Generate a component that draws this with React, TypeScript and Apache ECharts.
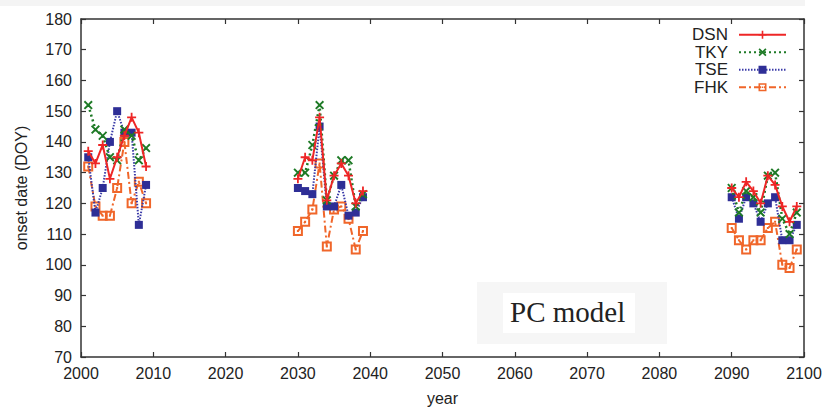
import React, { useEffect, useRef } from "react";
import * as echarts from "echarts";

const years1 = [2001, 2002, 2003, 2004, 2005, 2006, 2007, 2008, 2009];
const years2 = [2030, 2031, 2032, 2033, 2034, 2035, 2036, 2037, 2038, 2039];
const years3 = [2090, 2091, 2092, 2093, 2094, 2095, 2096, 2097, 2098, 2099];

const dsn1 = [137, 133, 139, 128, 135, 142, 148, 143, 132];
const dsn2 = [128, 135, 134, 148, 121, 129, 133, 129, 120, 124];
const dsn3 = [125, 122, 127, 124, 120, 129, 126, 119, 114, 119];

const tky1 = [152, 144, 142, 135, 134, 144, 142, 134, 138];
const tky2 = [130, 130, 139, 152, 121, 129, 134, 134, 119, 123];
const tky3 = [125, 117, 124, 122, 117, 129, 130, 115, 110, 117];

const tse1 = [135, 117, 125, 140, 150, 143, 143, 113, 126];
const tse2 = [125, 124, 123, 145, 119, 119, 126, 116, 117, 122];
const tse3 = [122, 115, 122, 120, 114, 120, 122, 108, 108, 113];

const fhk1 = [132, 119, 116, 116, 125, 140, 120, 127, 120];
const fhk2 = [111, 114, 118, 133, 106, 118, 119, 115, 105, 111];
const fhk3 = [112, 108, 105, 108, 108, 112, 114, 100, 99, 105];

const seriesNames = ["DSN", "TKY", "TSE", "FHK"];
const xTicks = { min: 2000, max: 2100, interval: 10 };
const yTicks = { min: 70, max: 180, interval: 10 };

function build(a: number[], b: number[], c: number[]) {
  const out: any[] = [];
  years1.forEach((y, i) => out.push([y, a[i]]));
  out.push([2020, "-"]);
  years2.forEach((y, i) => out.push([y, b[i]]));
  out.push([2060, "-"]);
  years3.forEach((y, i) => out.push([y, c[i]]));
  return out;
}

const PLUS = "path://M4,0H6V4H10V6H6V10H4V6H0V4H4Z";
const CROSS =
  "path://M1.5,0L5,3.5L8.5,0L10,1.5L6.5,5L10,8.5L8.5,10L5,6.5L1.5,10L0,8.5L3.5,5L0,1.5Z";
const OSQUARE = "path://M0,0H10V10H0Z M2,2V8H8V2Z M4,4H6V6H4Z";

const FONT = "Liberation Sans";

export default function App() {
  const ref = useRef<HTMLDivElement>(null);
  useEffect(() => {
    if (!ref.current) return;
    const chart = echarts.init(ref.current, null, { renderer: "svg" });
    const axisLine = { show: true, lineStyle: { color: "#333", width: 1.5 } };
    const tick = { show: true, inside: true, length: 5, lineStyle: { color: "#333", width: 1.2 } };
    chart.setOption({
      animation: false,
      backgroundColor: "#fff",
      grid: { left: 81, right: 30, top: 19, bottom: 54, show: false },
      legend: {
        data: seriesNames,
        orient: "vertical",
        right: 42,
        top: 21,
        align: "right",
        itemWidth: 47,
        itemHeight: 10,
        itemGap: 0,
        textStyle: {
          fontFamily: FONT,
          fontSize: 17,
          color: "#222",
          padding: [0, 6, 0, 0],
          lineHeight: 17.5,
        },
      },
      graphic: [
        { type: "rect", left: 0, top: 0, shape: { width: 805, height: 6 }, style: { fill: "#f4f4f4" }, z: -1 },
        { type: "rect", left: 477, top: 282, shape: { width: 190, height: 62 }, style: { fill: "#f6f6f6" }, z: 0 },
        { type: "rect", left: 503, top: 293, shape: { width: 132, height: 40 }, style: { fill: "#ffffff" }, z: 1 },
        {
          type: "text",
          left: 510,
          top: 297,
          z: 2,
          style: { text: "PC model", font: '29px "Liberation Serif"', fill: "#222" },
        },
      ],
      xAxis: [
        {
          type: "value",
          ...xTicks,
          name: "year",
          nameLocation: "middle",
          nameGap: 33,
          nameTextStyle: { fontFamily: FONT, fontSize: 16, color: "#222" },
          axisLine,
          axisTick: tick,
          splitLine: { show: false },
          axisLabel: {
            fontFamily: FONT,
            fontSize: 16,
            color: "#222",
            margin: 8,
            formatter: (v: number) => String(v),
          },
        },
        {
          type: "value",
          position: "top",
          ...xTicks,
          axisLine,
          axisTick: tick,
          splitLine: { show: false },
          axisLabel: { show: false },
        },
      ],
      yAxis: [
        {
          type: "value",
          ...yTicks,
          name: "onset date (DOY)",
          nameLocation: "middle",
          nameGap: 52,
          nameTextStyle: { fontFamily: FONT, fontSize: 16, color: "#222" },
          axisLine,
          axisTick: tick,
          splitLine: { show: false },
          axisLabel: { fontFamily: FONT, fontSize: 16, color: "#222", margin: 9 },
        },
        {
          type: "value",
          position: "right",
          ...yTicks,
          axisLine,
          axisTick: tick,
          splitLine: { show: false },
          axisLabel: { show: false },
        },
      ],
      series: [
        {
          name: "DSN",
          type: "line",
          data: build(dsn1, dsn2, dsn3),
          connectNulls: false,
          symbol: PLUS,
          symbolSize: 9,
          color: "#ee2626",
          lineStyle: { color: "#ee2626", width: 2, type: "solid" },
          itemStyle: { color: "#ee2626" },
          z: 5,
        },
        {
          name: "TKY",
          type: "line",
          data: build(tky1, tky2, tky3),
          connectNulls: false,
          symbol: CROSS,
          symbolSize: 9,
          color: "#1e7a26",
          lineStyle: { color: "#1e7a26", width: 2.5, type: [2, 3] },
          itemStyle: { color: "#1e7a26" },
          z: 4,
        },
        {
          name: "TSE",
          type: "line",
          data: build(tse1, tse2, tse3),
          connectNulls: false,
          symbol: "rect",
          symbolSize: 8,
          color: "#2e2e96",
          lineStyle: { color: "#3a3aa8", width: 2, type: [1.5, 1.5] },
          itemStyle: { color: "#2e2e96" },
          z: 3,
        },
        {
          name: "FHK",
          type: "line",
          data: build(fhk1, fhk2, fhk3),
          connectNulls: false,
          symbol: OSQUARE,
          symbolSize: 10,
          color: "#f0662a",
          lineStyle: { color: "#f0662a", width: 2, type: [7, 3, 2, 3] },
          itemStyle: { color: "#f0662a" },
          z: 2,
        },
      ],
    });
    return () => chart.dispose();
  }, []);
  return (
    <div
      ref={ref}
      style={{ position: "absolute", left: 0, top: 0, width: 834, height: 411 }}
    />
  );
}
